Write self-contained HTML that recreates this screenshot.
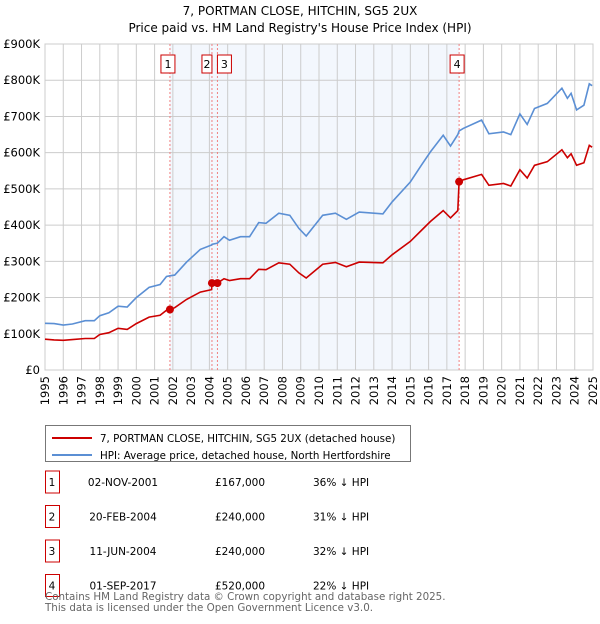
<!DOCTYPE html>
<html><head><meta charset="utf-8"><style>
body{margin:0;background:#fff;font-family:"DejaVu Sans","Liberation Sans",sans-serif;}
svg text{font-family:"DejaVu Sans","Liberation Sans",sans-serif;}
</style></head><body>
<svg id="chart" width="600" height="620" xmlns="http://www.w3.org/2000/svg">
<text x="300" y="15" text-anchor="middle" font-size="12">7, PORTMAN CLOSE, HITCHIN, SG5 2UX</text>
<text x="300" y="32" text-anchor="middle" font-size="12">Price paid vs. HM Land Registry's House Price Index (HPI)</text>
<g id="plot"></g>
<g>
<rect x="45.5" y="425.5" width="365" height="36" fill="#fff" stroke="#777"/>
<line x1="52" y1="438" x2="92" y2="438" stroke="#cc0000" stroke-width="2"/>
<text x="100" y="442" font-size="10.3">7, PORTMAN CLOSE, HITCHIN, SG5 2UX (detached house)</text>
<line x1="52" y1="455" x2="92" y2="455" stroke="#5b8fd4" stroke-width="2"/>
<text x="100" y="459" font-size="10.3">HPI: Average price, detached house, North Hertfordshire</text>
</g>
<g id="table" font-size="10.5"></g>
<text x="45" y="600" font-size="10.3" fill="#666">Contains HM Land Registry data © Crown copyright and database right 2025.</text>
<text x="45" y="611" font-size="10.3" fill="#666">This data is licensed under the Open Government Licence v3.0.</text>
</svg>
<script>
const hpiYears=[1995.0,1995.5,1996.0,1996.5,1997.2,1997.7,1998.0,1998.5,1999.0,1999.5,2000.0,2000.7,2001.3,2001.65,2001.84,2002.1,2002.75,2003.5,2004.12,2004.14,2004.44,2004.8,2005.1,2005.7,2006.2,2006.7,2007.1,2007.8,2008.4,2008.9,2009.3,2010.2,2010.9,2011.5,2012.2,2013.5,2014.0,2015.0,2015.6,2016.1,2016.8,2017.2,2017.6,2017.67,2017.9,2018.9,2019.3,2020.1,2020.5,2021.0,2021.4,2021.8,2022.5,2023.3,2023.6,2023.8,2024.1,2024.5,2024.8,2024.95];
const hpiValues=[129,128,124,127,136,136,150,158,176,174,200,228,236,258,260,262,298,333,345,347,350,368,358,368,368,407,405,433,427,391,370,427,433,416,436,431,464,519,565,602,648,618,650,660,667,690,652,657,650,707,678,722,736,778,750,764,718,731,790,785];
const priceValues=[85,83,82,84,87,87,98,103,115,112,128,146,151,165,167,172,195,215,222,240,240,252,247,252,252,278,277,296,292,268,254,292,297,285,298,296,318,355,385,410,440,420,440,520,525,540,510,515,508,553,530,565,575,608,586,597,565,572,620,615];
const saleLabels=["1","2","3","4"];
const saleYears=[2001.84,2004.14,2004.44,2017.67];
const saleValues=[167,240,240,520];
const saleDates=["02-NOV-2001","20-FEB-2004","11-JUN-2004","01-SEP-2017"];
const salePrices=["£167,000","£240,000","£240,000","£520,000"];
const salePct=["36% ↓ HPI","31% ↓ HPI","32% ↓ HPI","22% ↓ HPI"];
const yTicks=[0,100,200,300,400,500,600,700,800,900];
const yTickLabels=["£0","£100K","£200K","£300K","£400K","£500K","£600K","£700K","£800K","£900K"];
const xTicks=[1995,1996,1997,1998,1999,2000,2001,2002,2003,2004,2005,2006,2007,2008,2009,2010,2011,2012,2013,2014,2015,2016,2017,2018,2019,2020,2021,2022,2023,2024,2025];
const X0=45,X1=593,Y0=370,Y1=44;
const xs=y=>X0+(y-1995)/30*(X1-X0);
const ys=v=>Y0-v/900*(Y0-Y1);
const NS="http://www.w3.org/2000/svg";
const plot=document.getElementById('plot');
function mk(tag,attrs,parent){const e=document.createElementNS(NS,tag);for(const k in attrs)e.setAttribute(k,attrs[k]);(parent||plot).appendChild(e);return e;}
let e;
e=mk('rect',{x:xs(saleYears[0]),y:Y1,width:xs(saleYears[3])-xs(saleYears[0]),height:Y0-Y1,fill:'#eef3fc',opacity:0.7});


xTicks.forEach(t=>{
 e=mk('line',{x1:xs(t),x2:xs(t),y1:Y1,y2:Y0,stroke:'#ccc','stroke-width':1});
 
 
 e=mk('text',{x:0,y:0,'font-size':11.5,'text-anchor':'end',transform:`translate(${xs(t)+4},${Y0+6}) rotate(-90)`});
 e.textContent=t;
 
 
});
yTicks.forEach((t,i)=>{
 e=mk('line',{x1:X0,x2:X1,y1:ys(t),y2:ys(t),stroke:'#ccc','stroke-width':1});
 
 
 e=mk('text',{x:X0-5,y:ys(t)+4,'font-size':11.5,'text-anchor':'end'});
 e.textContent=yTickLabels[i];
 
 
});
e=mk('rect',{x:X0,y:Y1,width:X1-X0,height:Y0-Y1,fill:'none',stroke:'#ccc'});


saleYears.forEach((y,i)=>{
 e=mk('line',{x1:xs(y),x2:xs(y),y1:Y1,y2:Y0,stroke:'#f08080','stroke-dasharray':'2,2'});
 
 
});
function path(vals,color,name){
 const d=hpiYears.map((y,i)=>(i?'L':'M')+xs(y).toFixed(1)+','+ys(vals[i]).toFixed(1)).join('');
 e=mk('path',{d:d,fill:'none',stroke:color,'stroke-width':1.6});
 
 
}
path(hpiValues,'#5b8fd4','hpi-line');
path(priceValues,'#cc0000','price-paid-line');
saleYears.forEach((y,i)=>{
 e=mk('circle',{cx:xs(y),cy:ys(saleValues[i]),r:4,fill:'#cc0000'});
 
 
 const bx=xs(y)+(i==1?-10:(i==2?0:-9)) ;
 e=mk('rect',{x:bx,y:55,width:i==1?10:14,height:18,fill:'#fff',stroke:'#cc0000'});
 
 
 e=mk('text',{x:bx+(i==1?5:7),y:68,'font-size':11,'text-anchor':'middle'});
 e.textContent=saleLabels[i];
 
 
});
const tb=document.getElementById('table');
saleLabels.forEach((l,i)=>{
 const cy=482+i*34.5;
 e=mk('rect',{x:45.5,y:cy-11,width:14,height:22,fill:'#fff',stroke:'#cc0000'},tb);
 
 
 const cells=[[52,l,'middle'],[123,saleDates[i],'middle'],[240,salePrices[i],'middle'],[313,salePct[i],'start']];
 cells.forEach(c=>{
  e=mk('text',{x:c[0],y:cy+4,'text-anchor':c[2]},tb);
  e.textContent=c[1];
  
  
 });
});
</script>
</body></html>
